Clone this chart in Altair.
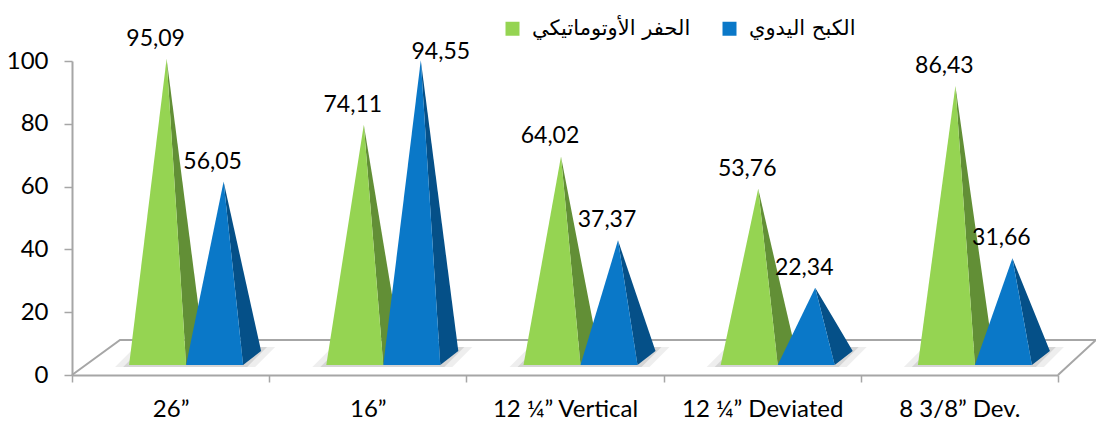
import json
import altair as alt
import pandas as pd

# ---------------- data ----------------
categories = ["26”", "16”", "12 ¼” Vertical", "12 ¼” Deviated", "8 3/8” Dev."]
series_names = ["الحفر الأوتوماتيكي", "الكبح اليدوي"]
auto_values = [95.09, 74.11, 64.02, 53.76, 86.43]
manual_values = [56.05, 94.55, 37.37, 22.34, 31.66]
y_ticks = [0, 20, 40, 60, 80, 100]

# ---------------- geometry / style ----------------
W, H = 986, 314
XU = W / len(categories)      # px per category
YU = H / 100.0                # px per value unit
front_colors = ["#95D452", "#0A78C8"]
side_colors = ["#628F36", "#055088"]
series_offset_px = [-13, 44]  # front-face centre offset from category centre
HALF = 28.5                   # half front width (px)
DX, DY = 18, 14               # depth vector (px)
BASE_LIFT = 10                # front base above axis (px)
APEX_LIFT = 17                # apex lift (px)
GRID = "#A6A6A6"
FONT = "Lato"

values_by_series = [auto_values, manual_values]

front_rows, side_rows, shadow_rows, label_rows = [], [], [], []
for i, cat in enumerate(categories):
    cc = i + 0.5
    pair = []
    for s, sname in enumerate(series_names):
        v = values_by_series[s][i]
        fc = cc + series_offset_px[s] / XU
        x0 = fc - HALF / XU
        x1 = fc + HALF / XU
        x2 = x1 + DX / XU
        yb = BASE_LIFT / YU
        yk = (BASE_LIFT + DY) / YU
        xa = fc + (DX / 2) / XU
        ya = APEX_LIFT / YU + v * 1.0025
        key = f"{i}-{s}"
        for x, y, y2 in [(x0, yb, yb), (xa, yb, ya), (x1, yb, yb)]:
            front_rows.append(dict(key=key, series=sname, x=x, y=y, y2=y2))
        ymid = ya + (yk - ya) * (x1 - xa) / (x2 - xa)
        for x, y, y2 in [(xa, ya, ya), (x1, yb, ymid), (x2, yk, yk)]:
            side_rows.append(dict(key=key, col=side_colors[s], x=x, y=y, y2=y2))
        label_rows.append(dict(series=sname, s=s, value=v, x=fc, y=ya,
                               label=f"{v:.2f}".replace(".", ",")))
        pair.append((x0, x2))
    # soft shadow around the pair's base
    a, b = pair[0][0], pair[1][1]
    for k, (grow, op) in enumerate([(14, 0.10), (6, 0.16)]):
        lo = (BASE_LIFT - 2) / YU
        hi = (BASE_LIFT + DY + 4) / YU
        s_ = (DX + 2) / XU
        xa_ = a - grow / XU
        xb_ = b + grow / XU - s_
        key = f"sh{i}-{k}"
        for x, y, y2 in [(xa_, lo, lo), (xa_ + s_, lo, hi), (xb_, lo, hi), (xb_ + s_, hi, hi)]:
            shadow_rows.append(dict(key=key, op=op, x=x, y=y, y2=y2))

front_df = pd.DataFrame(front_rows)
side_df = pd.DataFrame(side_rows)
shadow_df = pd.DataFrame(shadow_rows)
label_df = pd.DataFrame(label_rows)

floor_df = pd.DataFrame({
    "x": [0, 48 / XU, len(categories) + 38 / XU, len(categories)],
    "y": [0, 35 / YU, 35 / YU, 0],
    "o": [0, 1, 2, 3],
})

x_scale = alt.Scale(domain=[0, len(categories)], nice=False, zero=False)
y_scale = alt.Scale(domain=[0, 100], nice=False)

label_expr = "[" + ",".join(json.dumps(c) for c in categories) + ", ''][datum.value]"

x_axis = alt.Axis(values=list(range(len(categories) + 1)), labelExpr=label_expr,
                  labelOffset=XU / 2, labelFlush=False, labelOverlap=False,
                  title=None, grid=False, tickSize=7, tickColor=GRID, tickWidth=1.5,
                  domainColor=GRID, domainWidth=2, labelFont=FONT, labelFontSize=24,
                  labelColor="black", labelPadding=15)
y_axis = alt.Axis(values=y_ticks, title=None, grid=False, tickSize=8, tickColor=GRID,
                  tickWidth=1.5, domainColor=GRID, domainWidth=2, labelFont=FONT,
                  labelFontSize=24, labelColor="black", labelPadding=16)

floor = alt.Chart(floor_df).mark_line(color=GRID, strokeWidth=2).encode(
    x=alt.X("x:Q", scale=x_scale, axis=x_axis),
    y=alt.Y("y:Q", scale=y_scale, axis=y_axis),
    order="o:Q",
)

shadow = alt.Chart(shadow_df).mark_area(color="#555555", interpolate="linear").encode(
    x=alt.X("x:Q", scale=x_scale),
    y=alt.Y("y:Q", scale=y_scale, stack=None),
    y2="y2:Q",
    detail="key:N",
    opacity=alt.Opacity("op:Q", scale=None),
)

sides = alt.Chart(side_df).mark_area(interpolate="linear").encode(
    x=alt.X("x:Q", scale=x_scale),
    y=alt.Y("y:Q", scale=y_scale, stack=None),
    y2="y2:Q",
    detail="key:N",
    color=alt.Color("col:N", scale=None),
)

fronts = alt.Chart(front_df).mark_area(interpolate="linear", opacity=1).encode(
    x=alt.X("x:Q", scale=x_scale),
    y=alt.Y("y:Q", scale=y_scale, stack=None),
    y2="y2:Q",
    detail="key:N",
    color=alt.Color("series:N",
                    scale=alt.Scale(domain=series_names, range=front_colors),
                    legend=alt.Legend(orient="none", legendX=430, legendY=-43,
                                      direction="horizontal", title=None,
                                      symbolType="square", symbolSize=196,
                                      symbolStrokeWidth=0,
                                      symbolOpacity=1, labelFont="DejaVu Sans",
                                      labelFontSize=21, labelColor="black",
                                      labelOffset=9, columnPadding=28, padding=0)),
)

text_common = dict(font=FONT, fontSize=23, color="black", baseline="middle", align="center")
labels = alt.Chart(label_df).transform_filter(
    "!(datum.s == 1 && datum.value > 90)"
).mark_text(dy=-20, dx=-2, **text_common).encode(
    x=alt.X("x:Q", scale=x_scale), y=alt.Y("y:Q", scale=y_scale), text="label:N")

labels_top = alt.Chart(label_df).transform_filter(
    "datum.s == 1 && datum.value > 90"
).mark_text(dy=-8, dx=29, **text_common).encode(
    x=alt.X("x:Q", scale=x_scale), y=alt.Y("y:Q", scale=y_scale), text="label:N")

chart = alt.layer(floor, shadow, sides, fronts, labels, labels_top).properties(
    width=W, height=H,
    autosize=alt.AutoSizeParams(type="none"),
    padding={"left": 72, "top": 61, "right": 38, "bottom": 50},
    background="white",
).configure_view(stroke=None)

chart.save("out.html", embed_options={"renderer": "svg", "actions": False})
